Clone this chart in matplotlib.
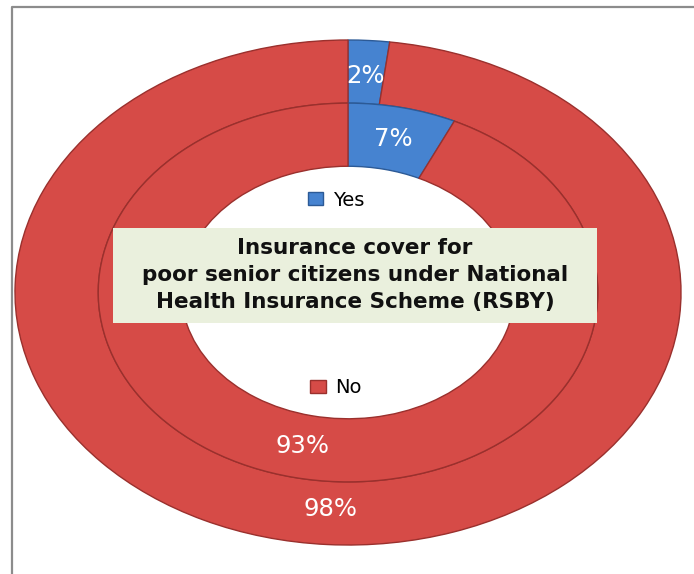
import matplotlib
matplotlib.use('Agg')
import matplotlib.pyplot as plt
from matplotlib.patches import Patch, Rectangle
from matplotlib.lines import Line2D
from matplotlib.legend import Legend

# data
categories = ['Yes', 'No']
outer_pct = [2, 98]
inner_pct = [7, 93]
title = ('Insurance cover for\n'
         'poor senior citizens under National\n'
         'Health Insurance Scheme (RSBY)')

blue, red = '#4683D0', '#D64B47'
blue_edge, red_edge = '#2C5A96', '#9A302D'
colors = [blue, red]
edges = [blue_edge, red_edge]

fig = plt.figure(figsize=(6.94, 5.74), dpi=100)
ax = fig.add_axes([0.0216, 0.0505, 0.9597, 0.8798])

ring_w = 0.25
wp = dict(width=ring_w, linewidth=1.0)
outer, _, outer_txt = ax.pie(outer_pct, radius=1.0, colors=colors,
                             startangle=90, counterclock=False,
                             autopct='%d%%', pctdistance=0.86,
                             wedgeprops=wp)
inner, _, inner_txt = ax.pie(inner_pct, radius=1.0 - ring_w, colors=colors,
                             startangle=90, counterclock=False,
                             autopct='%d%%', pctdistance=0.83,
                             wedgeprops=wp)
for ws in (outer, inner):
    for w, ec in zip(ws, edges):
        w.set_edgecolor(ec)
for t in outer_txt + inner_txt:
    t.set_color('white')
    t.set_fontsize(17.5)

# stretched (elliptical) doughnut
ax.set_aspect('auto')
ax.set_xlim(-1, 1)
ax.set_ylim(-1, 1)
ax.axis('off')

# legend entries, split above and below the title box
for cat, fc, ec, y in zip(categories, colors, edges, [0.683, 0.311]):
    leg = Legend(ax, [Patch(facecolor=fc, edgecolor=ec)], [cat],
                 loc='center', bbox_to_anchor=(0.482, y), frameon=False,
                 fontsize=14, handlelength=0.8, handleheight=0.65,
                 handletextpad=0.5, borderpad=0)
    ax.add_artist(leg)

# title box in the hole
fig.add_artist(Rectangle((0.163, 0.437), 0.697, 0.166,
                         transform=fig.transFigure, facecolor='#EAF0DD',
                         edgecolor='none', zorder=5))
fig.text(0.5115, 0.521, title, ha='center', va='center', fontsize=15.5,
         fontweight='bold', linespacing=1.42, color='#111111', zorder=6)

# chart area border (left and top edges)
x0, y0 = 11.5 / 694, 1 - 6.5 / 574
fig.add_artist(Line2D([x0, x0, 1.01], [-0.01, y0, y0],
                      transform=fig.transFigure, color='#8C8C8C', lw=1.6))

fig.savefig('out.png', dpi=100)
